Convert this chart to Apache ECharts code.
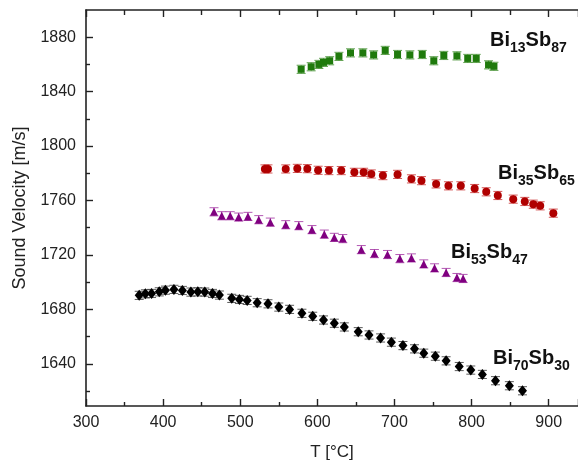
<!DOCTYPE html>
<html><head><meta charset="utf-8">
<script src="https://cdn.jsdelivr.net/npm/echarts@6/dist/echarts.min.js"></script>
<style>html,body{margin:0;padding:0;background:#fff}#c{width:578px;height:468px}</style>
</head><body><div id="c"></div>
<script>
const xTicks = [300,400,500,600,700,800,900];
const yTicks = [1640,1680,1720,1760,1800,1840,1880];
const yMinorTicks = [1620,1660,1700,1740,1780,1820,1860];

const tBi70 = [369,377,385,395,403,414,425,436,445,454,464,473,489,499,509,522,536,550,564,580,594,608,622,635,653,667,682,696,711,726,738,753,767,784,799,814,831,849,866];
const vBi70 = [1690.3,1691.4,1691.7,1692.9,1694.1,1694.7,1693.9,1692.7,1692.9,1692.7,1691.7,1690.5,1688.1,1687.3,1686.6,1684.9,1684.1,1681.7,1680,1677.1,1674.9,1672.2,1669.8,1667.1,1663.6,1661.2,1659,1655.9,1653.4,1651,1647.8,1645.6,1642.2,1638,1635.4,1632.2,1627.6,1623.9,1620.2];

const tBi53 = [466,476,487,498,510,524,539,559,576,593,609,622,633,657,674,691,707,722,738,752,767,781,789];
const vBi53 = [1751.7,1748.8,1748.8,1747.8,1748.3,1745.9,1744.1,1742.2,1741.5,1738.6,1735.3,1732.9,1732,1723.9,1721,1720.3,1717.3,1717.8,1713.4,1710.5,1707.1,1703.4,1702.7];

const tBi35 = [532,536,559,574,587,601,615,631,648,660,670,685,704,722,735,754,770,786,804,819,834,854,869,880,889,906];
const vBi35 = [1783.2,1783.2,1783.2,1783.6,1783.4,1782.2,1782,1782,1780.7,1780.7,1779.5,1778.3,1779.2,1775.9,1774.6,1772.2,1770.8,1770.8,1768.8,1766.4,1763.7,1761,1759.3,1757.3,1756.1,1750.7];

const tBi13 = [579,592,602,608,616,628,643,659,673,688,704,720,736,751,764,781,795,806,822,829];
const vBi13 = [1856.4,1858.3,1860,1861.5,1862.7,1865.9,1868.5,1868.5,1867,1870.3,1867.3,1867,1867.3,1862.7,1866.6,1866.3,1864.4,1864.4,1859.7,1858.6];

const errBi70 = 3, errBi53 = 3, errBi35 = 3, errBi13 = 3;

const FONT = '"Liberation Sans", Arial, sans-serif';
const AX = '#222';

function pts(t, v){ return t.map((x,i)=>[x, v[i]]); }
function errs(t, v, e){ return t.map((x,i)=>[x, v[i]-e, v[i]+e]); }

function errRender(params, api){
  const x = api.value(0), lo = api.value(1), hi = api.value(2);
  const p1 = api.coord([x, lo]), p2 = api.coord([x, hi]);
  const w = 4.5;
  const style = {stroke: api.visual('color'), lineWidth: 1, opacity: 0.8, fill: null};
  return {type:'group', children:[
    {type:'line', shape:{x1:p1[0],y1:p1[1],x2:p2[0],y2:p2[1]}, style},
    {type:'line', shape:{x1:p1[0]-w,y1:p1[1],x2:p1[0]+w,y2:p1[1]}, style},
    {type:'line', shape:{x1:p2[0]-w,y1:p2[1],x2:p2[0]+w,y2:p2[1]}, style}
  ]};
}

const groups = [
  {name:'Bi70Sb30', t:tBi70, v:vBi70, e:errBi70, color:'#000000', ecolor:'#333333', symbol:'diamond', size:[9,11]},
  {name:'Bi53Sb47', t:tBi53, v:vBi53, e:errBi53, color:'#800080', ecolor:'#a030a0', symbol:'triangle', size:8},
  {name:'Bi35Sb65', t:tBi35, v:vBi35, e:errBi35, color:'#b00000', ecolor:'#c83030', symbol:'circle', size:8},
  {name:'Bi13Sb87', t:tBi13, v:vBi13, e:errBi13, color:'#1f7a0c', ecolor:'#3c8c28', symbol:'rect', size:7}
];

const series = [];
groups.forEach(g=>{
  series.push({type:'custom', name:g.name+'_err', renderItem:errRender, data:errs(g.t,g.v,g.e),
    itemStyle:{color:g.ecolor}, z:2, silent:true, encode:{x:0,y:[1,2]}});
  series.push({type:'scatter', name:g.name, data:pts(g.t,g.v), symbol:g.symbol, symbolSize:g.size,
    itemStyle:{color:g.color, opacity:1}, z:3});
});

// formula labels: main text + subscripts, built from separate text pieces
const MAIN_FS = 20, SUB_FS = 14;
const mainFont = 'bold ' + MAIN_FS + 'px ' + FONT;
const subFont = 'bold ' + SUB_FS + 'px ' + FONT;
const mctx = document.createElement('canvas').getContext('2d');
function tw(txt, font){ mctx.font = font; return mctx.measureText(txt).width; }
function formula(parts, x, baseline){
  const out = [];
  let cx = x;
  parts.forEach(p=>{
    const sub = p[1];
    const fs = sub ? SUB_FS : MAIN_FS;
    const font = sub ? subFont : mainFont;
    const yMid = sub ? baseline + 5.7 - 0.3465*fs : baseline - 0.3465*fs;
    out.push({type:'text', x:cx, y:yMid, z:10, silent:true, style:{
      text:p[0], fontSize:fs, fontWeight:'bold', fontFamily:FONT, fill:'#111',
      align:'left', verticalAlign:'middle'}});
    cx += tw(p[0], font);
  });
  return out;
}

const labels = [].concat(
  formula([['Bi',0],['13',1],['Sb',0],['87',1]], 490, 47.3),
  formula([['Bi',0],['35',1],['Sb',0],['65',1]], 498, 180.7),
  formula([['Bi',0],['53',1],['Sb',0],['47',1]], 451, 259),
  formula([['Bi',0],['70',1],['Sb',0],['30',1]], 493, 365)
);

const chart = echarts.init(document.getElementById('c'), null, {renderer:'canvas'});
chart.setOption({
  animation:false,
  backgroundColor:'#fff',
  grid:{left:86, top:10, right:0, bottom:62, containLabel:false},
  xAxis:[
    {type:'value', position:'bottom', min:300, max:938, interval:100,
     name:'T [°C]', nameLocation:'middle', nameGap:38,
     nameTextStyle:{fontFamily:FONT, fontSize:17, color:AX},
     axisLine:{show:true, onZero:false, lineStyle:{color:AX, width:1.6}},
     axisTick:{show:true, inside:true, length:7, lineStyle:{color:AX, width:1.4}},
     minorTick:{show:true, splitNumber:2, length:4, lineStyle:{color:AX, width:1.4}},
     axisLabel:{fontFamily:FONT, fontSize:16, color:AX, margin:9, showMaxLabel:false,
       formatter:function(v){ return xTicks.indexOf(v) >= 0 ? String(v) : ''; }},
     splitLine:{show:false}, minorSplitLine:{show:false}},
    {type:'value', position:'top', min:300, max:938, interval:100,
     axisLine:{show:true, onZero:false, lineStyle:{color:AX, width:1.6}},
     axisTick:{show:true, inside:true, length:7, lineStyle:{color:AX, width:1.4}},
     minorTick:{show:true, splitNumber:2, length:5, lineStyle:{color:AX, width:1.4}},
     axisLabel:{show:false}, splitLine:{show:false}}
  ],
  yAxis:[
    {type:'value', position:'left', min:1609, max:1900,
     name:'Sound Velocity [m/s]', nameLocation:'middle', nameGap:56,
     nameTextStyle:{fontFamily:FONT, fontSize:18, color:AX},
     axisLine:{show:true, onZero:false, lineStyle:{color:AX, width:1.6}},
     axisTick:{show:true, inside:true, length:7, customValues:yTicks, lineStyle:{color:AX, width:1.4}},
     axisLabel:{fontFamily:FONT, fontSize:16, color:AX, margin:10, customValues:yTicks,
       formatter:function(v){ return String(v); }},
     splitLine:{show:false}},
    {type:'value', position:'left', min:1609, max:1900,
     axisLine:{show:false, onZero:false},
     axisTick:{show:true, inside:true, length:4, customValues:yMinorTicks, lineStyle:{color:AX, width:1.4}},
     axisLabel:{show:false, customValues:yMinorTicks},
     splitLine:{show:false}}
  ],
  series: series,
  graphic: labels
});
</script></body></html>
